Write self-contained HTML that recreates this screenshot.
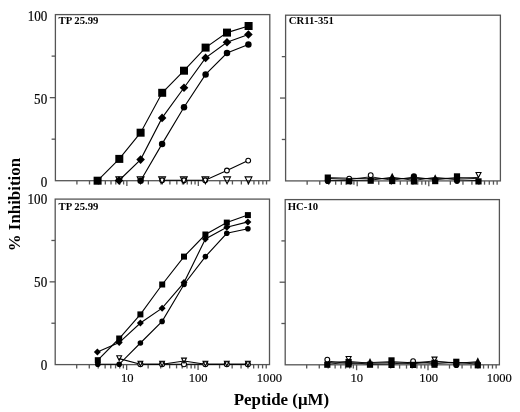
<!DOCTYPE html>
<html><head><meta charset="utf-8"><style>
html,body{margin:0;padding:0;background:#fff;width:520px;height:412px;overflow:hidden;}
body{position:relative;font-family:"Liberation Serif",serif;}
</style></head><body>
<svg width="520" height="412" viewBox="0 0 520 412" style="position:absolute;left:0;top:0;filter:grayscale(1)">
<rect x="55.4" y="14.6" width="214.40" height="166.10" fill="none" stroke="#555" stroke-width="1.3"/>
<line x1="51.60" y1="139.17" x2="55.4" y2="139.17" stroke="#555" stroke-width="1.3"/>
<line x1="49.80" y1="97.65" x2="55.4" y2="97.65" stroke="#555" stroke-width="1.3"/>
<line x1="51.60" y1="56.12" x2="55.4" y2="56.12" stroke="#555" stroke-width="1.3"/>
<line x1="76.91" y1="180.7" x2="76.91" y2="184.50" stroke="#555" stroke-width="1.3"/>
<line x1="89.50" y1="180.7" x2="89.50" y2="184.50" stroke="#555" stroke-width="1.3"/>
<line x1="98.43" y1="180.7" x2="98.43" y2="184.50" stroke="#555" stroke-width="1.3"/>
<line x1="105.35" y1="180.7" x2="105.35" y2="184.50" stroke="#555" stroke-width="1.3"/>
<line x1="111.01" y1="180.7" x2="111.01" y2="184.50" stroke="#555" stroke-width="1.3"/>
<line x1="115.80" y1="180.7" x2="115.80" y2="184.50" stroke="#555" stroke-width="1.3"/>
<line x1="119.94" y1="180.7" x2="119.94" y2="184.50" stroke="#555" stroke-width="1.3"/>
<line x1="123.60" y1="180.7" x2="123.60" y2="184.50" stroke="#555" stroke-width="1.3"/>
<line x1="126.87" y1="180.7" x2="126.87" y2="186.10" stroke="#555" stroke-width="1.3"/>
<line x1="148.38" y1="180.7" x2="148.38" y2="184.50" stroke="#555" stroke-width="1.3"/>
<line x1="160.96" y1="180.7" x2="160.96" y2="184.50" stroke="#555" stroke-width="1.3"/>
<line x1="169.89" y1="180.7" x2="169.89" y2="184.50" stroke="#555" stroke-width="1.3"/>
<line x1="176.82" y1="180.7" x2="176.82" y2="184.50" stroke="#555" stroke-width="1.3"/>
<line x1="182.48" y1="180.7" x2="182.48" y2="184.50" stroke="#555" stroke-width="1.3"/>
<line x1="187.26" y1="180.7" x2="187.26" y2="184.50" stroke="#555" stroke-width="1.3"/>
<line x1="191.41" y1="180.7" x2="191.41" y2="184.50" stroke="#555" stroke-width="1.3"/>
<line x1="195.06" y1="180.7" x2="195.06" y2="184.50" stroke="#555" stroke-width="1.3"/>
<line x1="198.33" y1="180.7" x2="198.33" y2="186.10" stroke="#555" stroke-width="1.3"/>
<line x1="219.85" y1="180.7" x2="219.85" y2="184.50" stroke="#555" stroke-width="1.3"/>
<line x1="232.43" y1="180.7" x2="232.43" y2="184.50" stroke="#555" stroke-width="1.3"/>
<line x1="241.36" y1="180.7" x2="241.36" y2="184.50" stroke="#555" stroke-width="1.3"/>
<line x1="248.29" y1="180.7" x2="248.29" y2="184.50" stroke="#555" stroke-width="1.3"/>
<line x1="253.95" y1="180.7" x2="253.95" y2="184.50" stroke="#555" stroke-width="1.3"/>
<line x1="258.73" y1="180.7" x2="258.73" y2="184.50" stroke="#555" stroke-width="1.3"/>
<line x1="262.87" y1="180.7" x2="262.87" y2="184.50" stroke="#555" stroke-width="1.3"/>
<line x1="266.53" y1="180.7" x2="266.53" y2="184.50" stroke="#555" stroke-width="1.3"/>
<rect x="285.6" y="15.2" width="214.80" height="165.70" fill="none" stroke="#555" stroke-width="1.3"/>
<line x1="281.80" y1="139.48" x2="285.6" y2="139.48" stroke="#555" stroke-width="1.3"/>
<line x1="280.00" y1="98.05" x2="285.6" y2="98.05" stroke="#555" stroke-width="1.3"/>
<line x1="281.80" y1="56.62" x2="285.6" y2="56.62" stroke="#555" stroke-width="1.3"/>
<line x1="307.15" y1="180.9" x2="307.15" y2="184.70" stroke="#555" stroke-width="1.3"/>
<line x1="319.76" y1="180.9" x2="319.76" y2="184.70" stroke="#555" stroke-width="1.3"/>
<line x1="328.71" y1="180.9" x2="328.71" y2="184.70" stroke="#555" stroke-width="1.3"/>
<line x1="335.65" y1="180.9" x2="335.65" y2="184.70" stroke="#555" stroke-width="1.3"/>
<line x1="341.32" y1="180.9" x2="341.32" y2="184.70" stroke="#555" stroke-width="1.3"/>
<line x1="346.11" y1="180.9" x2="346.11" y2="184.70" stroke="#555" stroke-width="1.3"/>
<line x1="350.26" y1="180.9" x2="350.26" y2="184.70" stroke="#555" stroke-width="1.3"/>
<line x1="353.92" y1="180.9" x2="353.92" y2="184.70" stroke="#555" stroke-width="1.3"/>
<line x1="357.20" y1="180.9" x2="357.20" y2="186.30" stroke="#555" stroke-width="1.3"/>
<line x1="378.75" y1="180.9" x2="378.75" y2="184.70" stroke="#555" stroke-width="1.3"/>
<line x1="391.36" y1="180.9" x2="391.36" y2="184.70" stroke="#555" stroke-width="1.3"/>
<line x1="400.31" y1="180.9" x2="400.31" y2="184.70" stroke="#555" stroke-width="1.3"/>
<line x1="407.25" y1="180.9" x2="407.25" y2="184.70" stroke="#555" stroke-width="1.3"/>
<line x1="412.92" y1="180.9" x2="412.92" y2="184.70" stroke="#555" stroke-width="1.3"/>
<line x1="417.71" y1="180.9" x2="417.71" y2="184.70" stroke="#555" stroke-width="1.3"/>
<line x1="421.86" y1="180.9" x2="421.86" y2="184.70" stroke="#555" stroke-width="1.3"/>
<line x1="425.52" y1="180.9" x2="425.52" y2="184.70" stroke="#555" stroke-width="1.3"/>
<line x1="428.80" y1="180.9" x2="428.80" y2="186.30" stroke="#555" stroke-width="1.3"/>
<line x1="450.35" y1="180.9" x2="450.35" y2="184.70" stroke="#555" stroke-width="1.3"/>
<line x1="462.96" y1="180.9" x2="462.96" y2="184.70" stroke="#555" stroke-width="1.3"/>
<line x1="471.91" y1="180.9" x2="471.91" y2="184.70" stroke="#555" stroke-width="1.3"/>
<line x1="478.85" y1="180.9" x2="478.85" y2="184.70" stroke="#555" stroke-width="1.3"/>
<line x1="484.52" y1="180.9" x2="484.52" y2="184.70" stroke="#555" stroke-width="1.3"/>
<line x1="489.31" y1="180.9" x2="489.31" y2="184.70" stroke="#555" stroke-width="1.3"/>
<line x1="493.46" y1="180.9" x2="493.46" y2="184.70" stroke="#555" stroke-width="1.3"/>
<line x1="497.12" y1="180.9" x2="497.12" y2="184.70" stroke="#555" stroke-width="1.3"/>
<rect x="55.2" y="199.1" width="214.30" height="165.50" fill="none" stroke="#555" stroke-width="1.3"/>
<line x1="51.40" y1="323.23" x2="55.2" y2="323.23" stroke="#555" stroke-width="1.3"/>
<line x1="49.60" y1="281.85" x2="55.2" y2="281.85" stroke="#555" stroke-width="1.3"/>
<line x1="51.40" y1="240.48" x2="55.2" y2="240.48" stroke="#555" stroke-width="1.3"/>
<line x1="76.70" y1="364.6" x2="76.70" y2="368.40" stroke="#555" stroke-width="1.3"/>
<line x1="89.28" y1="364.6" x2="89.28" y2="368.40" stroke="#555" stroke-width="1.3"/>
<line x1="98.21" y1="364.6" x2="98.21" y2="368.40" stroke="#555" stroke-width="1.3"/>
<line x1="105.13" y1="364.6" x2="105.13" y2="368.40" stroke="#555" stroke-width="1.3"/>
<line x1="110.79" y1="364.6" x2="110.79" y2="368.40" stroke="#555" stroke-width="1.3"/>
<line x1="115.57" y1="364.6" x2="115.57" y2="368.40" stroke="#555" stroke-width="1.3"/>
<line x1="119.71" y1="364.6" x2="119.71" y2="368.40" stroke="#555" stroke-width="1.3"/>
<line x1="123.36" y1="364.6" x2="123.36" y2="368.40" stroke="#555" stroke-width="1.3"/>
<line x1="126.63" y1="364.6" x2="126.63" y2="370.00" stroke="#555" stroke-width="1.3"/>
<line x1="148.14" y1="364.6" x2="148.14" y2="368.40" stroke="#555" stroke-width="1.3"/>
<line x1="160.72" y1="364.6" x2="160.72" y2="368.40" stroke="#555" stroke-width="1.3"/>
<line x1="169.64" y1="364.6" x2="169.64" y2="368.40" stroke="#555" stroke-width="1.3"/>
<line x1="176.56" y1="364.6" x2="176.56" y2="368.40" stroke="#555" stroke-width="1.3"/>
<line x1="182.22" y1="364.6" x2="182.22" y2="368.40" stroke="#555" stroke-width="1.3"/>
<line x1="187.00" y1="364.6" x2="187.00" y2="368.40" stroke="#555" stroke-width="1.3"/>
<line x1="191.14" y1="364.6" x2="191.14" y2="368.40" stroke="#555" stroke-width="1.3"/>
<line x1="194.80" y1="364.6" x2="194.80" y2="368.40" stroke="#555" stroke-width="1.3"/>
<line x1="198.07" y1="364.6" x2="198.07" y2="370.00" stroke="#555" stroke-width="1.3"/>
<line x1="219.57" y1="364.6" x2="219.57" y2="368.40" stroke="#555" stroke-width="1.3"/>
<line x1="232.15" y1="364.6" x2="232.15" y2="368.40" stroke="#555" stroke-width="1.3"/>
<line x1="241.07" y1="364.6" x2="241.07" y2="368.40" stroke="#555" stroke-width="1.3"/>
<line x1="248.00" y1="364.6" x2="248.00" y2="368.40" stroke="#555" stroke-width="1.3"/>
<line x1="253.65" y1="364.6" x2="253.65" y2="368.40" stroke="#555" stroke-width="1.3"/>
<line x1="258.43" y1="364.6" x2="258.43" y2="368.40" stroke="#555" stroke-width="1.3"/>
<line x1="262.58" y1="364.6" x2="262.58" y2="368.40" stroke="#555" stroke-width="1.3"/>
<line x1="266.23" y1="364.6" x2="266.23" y2="368.40" stroke="#555" stroke-width="1.3"/>
<rect x="285.2" y="199.6" width="214.20" height="165.20" fill="none" stroke="#555" stroke-width="1.3"/>
<line x1="281.40" y1="323.50" x2="285.2" y2="323.50" stroke="#555" stroke-width="1.3"/>
<line x1="279.60" y1="282.20" x2="285.2" y2="282.20" stroke="#555" stroke-width="1.3"/>
<line x1="281.40" y1="240.90" x2="285.2" y2="240.90" stroke="#555" stroke-width="1.3"/>
<line x1="306.69" y1="364.8" x2="306.69" y2="368.60" stroke="#555" stroke-width="1.3"/>
<line x1="319.27" y1="364.8" x2="319.27" y2="368.60" stroke="#555" stroke-width="1.3"/>
<line x1="328.19" y1="364.8" x2="328.19" y2="368.60" stroke="#555" stroke-width="1.3"/>
<line x1="335.11" y1="364.8" x2="335.11" y2="368.60" stroke="#555" stroke-width="1.3"/>
<line x1="340.76" y1="364.8" x2="340.76" y2="368.60" stroke="#555" stroke-width="1.3"/>
<line x1="345.54" y1="364.8" x2="345.54" y2="368.60" stroke="#555" stroke-width="1.3"/>
<line x1="349.68" y1="364.8" x2="349.68" y2="368.60" stroke="#555" stroke-width="1.3"/>
<line x1="353.33" y1="364.8" x2="353.33" y2="368.60" stroke="#555" stroke-width="1.3"/>
<line x1="356.60" y1="364.8" x2="356.60" y2="370.20" stroke="#555" stroke-width="1.3"/>
<line x1="378.09" y1="364.8" x2="378.09" y2="368.60" stroke="#555" stroke-width="1.3"/>
<line x1="390.67" y1="364.8" x2="390.67" y2="368.60" stroke="#555" stroke-width="1.3"/>
<line x1="399.59" y1="364.8" x2="399.59" y2="368.60" stroke="#555" stroke-width="1.3"/>
<line x1="406.51" y1="364.8" x2="406.51" y2="368.60" stroke="#555" stroke-width="1.3"/>
<line x1="412.16" y1="364.8" x2="412.16" y2="368.60" stroke="#555" stroke-width="1.3"/>
<line x1="416.94" y1="364.8" x2="416.94" y2="368.60" stroke="#555" stroke-width="1.3"/>
<line x1="421.08" y1="364.8" x2="421.08" y2="368.60" stroke="#555" stroke-width="1.3"/>
<line x1="424.73" y1="364.8" x2="424.73" y2="368.60" stroke="#555" stroke-width="1.3"/>
<line x1="428.00" y1="364.8" x2="428.00" y2="370.20" stroke="#555" stroke-width="1.3"/>
<line x1="449.49" y1="364.8" x2="449.49" y2="368.60" stroke="#555" stroke-width="1.3"/>
<line x1="462.07" y1="364.8" x2="462.07" y2="368.60" stroke="#555" stroke-width="1.3"/>
<line x1="470.99" y1="364.8" x2="470.99" y2="368.60" stroke="#555" stroke-width="1.3"/>
<line x1="477.91" y1="364.8" x2="477.91" y2="368.60" stroke="#555" stroke-width="1.3"/>
<line x1="483.56" y1="364.8" x2="483.56" y2="368.60" stroke="#555" stroke-width="1.3"/>
<line x1="488.34" y1="364.8" x2="488.34" y2="368.60" stroke="#555" stroke-width="1.3"/>
<line x1="492.48" y1="364.8" x2="492.48" y2="368.60" stroke="#555" stroke-width="1.3"/>
<line x1="496.13" y1="364.8" x2="496.13" y2="368.60" stroke="#555" stroke-width="1.3"/>
<path d="M97.60 180.70L119.30 158.90L140.60 132.70L162.20 92.80L184.00 70.70L205.60 47.60L227.00 32.60L248.60 26.00" fill="none" stroke="#000" stroke-width="1.1"/>
<path d="M119.00 180.50L140.60 159.60L162.10 117.90L184.00 87.70L205.60 57.90L227.00 42.30L248.40 34.50" fill="none" stroke="#000" stroke-width="1.1"/>
<path d="M140.60 180.80L162.10 143.90L184.00 107.30L205.60 74.40L227.00 53.00L248.40 44.50" fill="none" stroke="#000" stroke-width="1.1"/>
<path d="M162.10 180.30L184.00 180.30L205.20 180.30L226.90 170.50L248.20 160.60" fill="none" stroke="#000" stroke-width="1.1"/>
<circle cx="162.10" cy="180.30" r="2.40" fill="#fff" stroke="#000" stroke-width="1.1"/>
<circle cx="184.00" cy="180.30" r="2.40" fill="#fff" stroke="#000" stroke-width="1.1"/>
<circle cx="205.20" cy="180.30" r="2.40" fill="#fff" stroke="#000" stroke-width="1.1"/>
<circle cx="226.90" cy="170.50" r="2.40" fill="#fff" stroke="#000" stroke-width="1.1"/>
<circle cx="248.20" cy="160.60" r="2.40" fill="#fff" stroke="#000" stroke-width="1.1"/>
<path d="M115.90 176.90L122.70 176.90L119.30 183.70Z" fill="none" stroke="#000" stroke-width="1.1"/>
<path d="M137.20 176.90L144.00 176.90L140.60 183.70Z" fill="none" stroke="#000" stroke-width="1.1"/>
<path d="M158.70 176.90L165.50 176.90L162.10 183.70Z" fill="none" stroke="#000" stroke-width="1.1"/>
<path d="M180.40 176.90L187.20 176.90L183.80 183.70Z" fill="none" stroke="#000" stroke-width="1.1"/>
<path d="M202.00 176.90L208.80 176.90L205.40 183.70Z" fill="none" stroke="#000" stroke-width="1.1"/>
<path d="M223.70 176.90L230.50 176.90L227.10 183.70Z" fill="none" stroke="#000" stroke-width="1.1"/>
<path d="M245.10 176.90L251.90 176.90L248.50 183.70Z" fill="none" stroke="#000" stroke-width="1.1"/>
<circle cx="140.60" cy="180.80" r="3.25" fill="#000"/>
<circle cx="162.10" cy="143.90" r="3.25" fill="#000"/>
<circle cx="184.00" cy="107.30" r="3.25" fill="#000"/>
<circle cx="205.60" cy="74.40" r="3.25" fill="#000"/>
<circle cx="227.00" cy="53.00" r="3.25" fill="#000"/>
<circle cx="248.40" cy="44.50" r="3.25" fill="#000"/>
<path d="M119.00 176.20L123.30 180.50L119.00 184.80L114.70 180.50Z" fill="#000"/>
<path d="M140.60 155.30L144.90 159.60L140.60 163.90L136.30 159.60Z" fill="#000"/>
<path d="M162.10 113.60L166.40 117.90L162.10 122.20L157.80 117.90Z" fill="#000"/>
<path d="M184.00 83.40L188.30 87.70L184.00 92.00L179.70 87.70Z" fill="#000"/>
<path d="M205.60 53.60L209.90 57.90L205.60 62.20L201.30 57.90Z" fill="#000"/>
<path d="M227.00 38.00L231.30 42.30L227.00 46.60L222.70 42.30Z" fill="#000"/>
<path d="M248.40 30.20L252.70 34.50L248.40 38.80L244.10 34.50Z" fill="#000"/>
<rect x="93.60" y="176.70" width="8" height="8" fill="#000"/>
<rect x="115.30" y="154.90" width="8" height="8" fill="#000"/>
<rect x="136.60" y="128.70" width="8" height="8" fill="#000"/>
<rect x="158.20" y="88.80" width="8" height="8" fill="#000"/>
<rect x="180.00" y="66.70" width="8" height="8" fill="#000"/>
<rect x="201.60" y="43.60" width="8" height="8" fill="#000"/>
<rect x="223.00" y="28.60" width="8" height="8" fill="#000"/>
<rect x="244.60" y="22.00" width="8" height="8" fill="#000"/>
<path d="M97.80 360.20L119.20 338.50L140.40 314.40L162.20 284.50L184.00 256.60L205.40 234.50L226.80 222.60L247.90 215.10" fill="none" stroke="#000" stroke-width="1.1"/>
<path d="M97.40 351.90L119.20 342.60L140.40 323.00L162.10 308.20L184.00 282.60L205.40 238.90L226.80 227.20L247.90 221.90" fill="none" stroke="#000" stroke-width="1.1"/>
<path d="M97.80 364.30L119.20 364.30L140.40 343.00L162.10 321.40L184.00 284.50L205.40 256.60L226.80 233.30L247.90 228.70" fill="none" stroke="#000" stroke-width="1.1"/>
<path d="M140.40 364.20L162.10 364.20L184.00 364.20L205.40 364.20L226.80 364.20L247.90 364.20" fill="none" stroke="#000" stroke-width="1.1"/>
<path d="M119.20 358.60L140.40 364.20L162.10 364.20L184.00 361.00L205.40 364.20L226.80 364.20L247.90 364.20" fill="none" stroke="#000" stroke-width="1.1"/>
<circle cx="140.40" cy="364.20" r="2.50" fill="#fff" stroke="#000" stroke-width="1.1"/>
<circle cx="162.10" cy="364.20" r="2.50" fill="#fff" stroke="#000" stroke-width="1.1"/>
<circle cx="184.00" cy="364.20" r="2.50" fill="#fff" stroke="#000" stroke-width="1.1"/>
<circle cx="205.40" cy="364.20" r="2.50" fill="#fff" stroke="#000" stroke-width="1.1"/>
<circle cx="226.80" cy="364.20" r="2.50" fill="#fff" stroke="#000" stroke-width="1.1"/>
<circle cx="247.90" cy="364.20" r="2.50" fill="#fff" stroke="#000" stroke-width="1.1"/>
<path d="M116.80 355.70L121.60 355.70L119.20 360.50Z" fill="none" stroke="#000" stroke-width="1.1"/>
<path d="M138.00 361.30L142.80 361.30L140.40 366.10Z" fill="none" stroke="#000" stroke-width="1.1"/>
<path d="M159.70 361.30L164.50 361.30L162.10 366.10Z" fill="none" stroke="#000" stroke-width="1.1"/>
<path d="M181.60 358.10L186.40 358.10L184.00 362.90Z" fill="none" stroke="#000" stroke-width="1.1"/>
<path d="M203.00 361.30L207.80 361.30L205.40 366.10Z" fill="none" stroke="#000" stroke-width="1.1"/>
<path d="M224.40 361.30L229.20 361.30L226.80 366.10Z" fill="none" stroke="#000" stroke-width="1.1"/>
<path d="M245.50 361.30L250.30 361.30L247.90 366.10Z" fill="none" stroke="#000" stroke-width="1.1"/>
<circle cx="97.80" cy="364.30" r="2.80" fill="#000"/>
<circle cx="119.20" cy="364.30" r="2.80" fill="#000"/>
<circle cx="140.40" cy="343.00" r="2.80" fill="#000"/>
<circle cx="162.10" cy="321.40" r="2.80" fill="#000"/>
<circle cx="184.00" cy="284.50" r="2.80" fill="#000"/>
<circle cx="205.40" cy="256.60" r="2.80" fill="#000"/>
<circle cx="226.80" cy="233.30" r="2.80" fill="#000"/>
<circle cx="247.90" cy="228.70" r="2.80" fill="#000"/>
<path d="M97.40 348.40L100.90 351.90L97.40 355.40L93.90 351.90Z" fill="#000"/>
<path d="M119.20 339.10L122.70 342.60L119.20 346.10L115.70 342.60Z" fill="#000"/>
<path d="M140.40 319.50L143.90 323.00L140.40 326.50L136.90 323.00Z" fill="#000"/>
<path d="M162.10 304.70L165.60 308.20L162.10 311.70L158.60 308.20Z" fill="#000"/>
<path d="M184.00 279.10L187.50 282.60L184.00 286.10L180.50 282.60Z" fill="#000"/>
<path d="M205.40 235.40L208.90 238.90L205.40 242.40L201.90 238.90Z" fill="#000"/>
<path d="M226.80 223.70L230.30 227.20L226.80 230.70L223.30 227.20Z" fill="#000"/>
<path d="M247.90 218.40L251.40 221.90L247.90 225.40L244.40 221.90Z" fill="#000"/>
<rect x="94.80" y="357.20" width="6" height="6" fill="#000"/>
<rect x="116.20" y="335.50" width="6" height="6" fill="#000"/>
<rect x="137.40" y="311.40" width="6" height="6" fill="#000"/>
<rect x="159.20" y="281.50" width="6" height="6" fill="#000"/>
<rect x="181.00" y="253.60" width="6" height="6" fill="#000"/>
<rect x="202.40" y="231.50" width="6" height="6" fill="#000"/>
<rect x="223.80" y="219.60" width="6" height="6" fill="#000"/>
<rect x="244.90" y="212.10" width="6" height="6" fill="#000"/>
<path d="M327.80 178.40L349.20 179.40L370.70 176.80L392.20 180.20L413.90 177.00L435.20 179.80L457.00 177.60L478.50 178.80" fill="none" stroke="#000" stroke-width="0.9"/>
<path d="M327.80 180.40L349.20 180.40L370.70 180.20L392.20 177.20L413.90 180.40L435.20 177.40L457.00 179.80L478.50 180.60" fill="none" stroke="#000" stroke-width="0.9"/>
<path d="M327.80 177.60L349.20 178.20L370.70 178.80L392.20 178.40L413.90 178.60L435.20 178.40L457.00 178.20L478.50 177.40" fill="none" stroke="#000" stroke-width="0.9"/>
<rect x="324.70" y="174.50" width="6.2" height="6.2" fill="#000"/>
<circle cx="327.80" cy="181.00" r="3.10" fill="#000"/>
<circle cx="349.20" cy="178.60" r="2.40" fill="#fff" stroke="#000" stroke-width="1.1"/>
<rect x="346.10" y="178.10" width="6.2" height="6.2" fill="#000"/>
<circle cx="370.70" cy="175.20" r="2.40" fill="#fff" stroke="#000" stroke-width="1.1"/>
<rect x="367.60" y="177.60" width="6.2" height="6.2" fill="#000"/>
<path d="M392.20 172.70L395.50 179.30L388.90 179.30Z" fill="#000"/>
<rect x="389.10" y="177.90" width="6.2" height="6.2" fill="#000"/>
<circle cx="413.90" cy="176.30" r="3.10" fill="#000"/>
<rect x="410.80" y="178.30" width="6.2" height="6.2" fill="#000"/>
<path d="M435.20 174.30L438.50 180.90L431.90 180.90Z" fill="#000"/>
<rect x="432.10" y="178.00" width="6.2" height="6.2" fill="#000"/>
<circle cx="457.00" cy="180.80" r="3.10" fill="#000"/>
<rect x="453.90" y="173.30" width="6.2" height="6.2" fill="#000"/>
<path d="M476.00 172.50L481.00 172.50L478.50 177.50Z" fill="#fff" stroke="#000" stroke-width="1.1"/>
<rect x="475.40" y="178.30" width="6.2" height="6.2" fill="#000"/>
<path d="M327.30 361.00L348.60 363.60L370.00 362.60L391.50 361.60L413.10 362.80L434.50 361.00L456.30 363.40L477.80 361.60" fill="none" stroke="#000" stroke-width="0.9"/>
<path d="M327.30 364.20L348.60 362.40L370.00 364.20L391.50 364.00L413.10 362.00L434.50 363.60L456.30 362.40L477.80 364.20" fill="none" stroke="#000" stroke-width="0.9"/>
<path d="M327.30 362.60L348.60 361.40L370.00 363.20L391.50 362.60L413.10 363.80L434.50 361.80L456.30 362.60L477.80 362.80" fill="none" stroke="#000" stroke-width="0.9"/>
<circle cx="327.30" cy="359.60" r="2.40" fill="#fff" stroke="#000" stroke-width="1.1"/>
<rect x="324.20" y="361.60" width="6.2" height="6.2" fill="#000"/>
<path d="M346.10 356.50L351.10 356.50L348.60 361.50Z" fill="#fff" stroke="#000" stroke-width="1.1"/>
<rect x="345.50" y="358.90" width="6.2" height="6.2" fill="#000"/>
<rect x="345.50" y="361.30" width="6.2" height="6.2" fill="#000"/>
<path d="M370.00 358.10L373.30 364.70L366.70 364.70Z" fill="#000"/>
<rect x="366.90" y="361.60" width="6.2" height="6.2" fill="#000"/>
<rect x="388.40" y="357.30" width="6.2" height="6.2" fill="#000"/>
<rect x="388.40" y="361.80" width="6.2" height="6.2" fill="#000"/>
<circle cx="413.10" cy="361.20" r="2.40" fill="#fff" stroke="#000" stroke-width="1.1"/>
<rect x="410.00" y="361.80" width="6.2" height="6.2" fill="#000"/>
<path d="M432.00 357.10L437.00 357.10L434.50 362.10Z" fill="#fff" stroke="#000" stroke-width="1.1"/>
<rect x="431.40" y="359.70" width="6.2" height="6.2" fill="#000"/>
<rect x="431.40" y="361.60" width="6.2" height="6.2" fill="#000"/>
<circle cx="456.30" cy="365.00" r="3.10" fill="#000"/>
<rect x="453.20" y="358.70" width="6.2" height="6.2" fill="#000"/>
<path d="M477.80 357.30L481.10 363.90L474.50 363.90Z" fill="#000"/>
<rect x="474.70" y="362.20" width="6.2" height="6.2" fill="#000"/>
<text x="47.3" y="20.8" font-family="Liberation Serif" font-size="13.8" text-anchor="end" stroke="#000" stroke-width="0.2" transform="translate(47.3 20.8) scale(0.95 1) translate(-47.3 -20.8)">100</text>
<text x="47.2" y="103.6" font-family="Liberation Serif" font-size="13.8" text-anchor="end" stroke="#000" stroke-width="0.2" transform="translate(47.2 103.6) scale(0.95 1) translate(-47.2 -103.6)">50</text>
<text x="47.2" y="186.6" font-family="Liberation Serif" font-size="13.8" text-anchor="end" stroke="#000" stroke-width="0.2" transform="translate(47.2 186.6) scale(0.95 1) translate(-47.2 -186.6)">0</text>
<text x="47.2" y="204.3" font-family="Liberation Serif" font-size="13.8" text-anchor="end" stroke="#000" stroke-width="0.2" transform="translate(47.2 204.3) scale(0.95 1) translate(-47.2 -204.3)">100</text>
<text x="47.2" y="287.0" font-family="Liberation Serif" font-size="13.8" text-anchor="end" stroke="#000" stroke-width="0.2" transform="translate(47.2 287.0) scale(0.95 1) translate(-47.2 -287.0)">50</text>
<text x="47.2" y="370.5" font-family="Liberation Serif" font-size="13.8" text-anchor="end" stroke="#000" stroke-width="0.2" transform="translate(47.2 370.5) scale(0.95 1) translate(-47.2 -370.5)">0</text>
<text x="127.2" y="382.3" font-family="Liberation Serif" font-size="12.6" text-anchor="middle" stroke="#000" stroke-width="0.15">10</text>
<text x="198.2" y="382.3" font-family="Liberation Serif" font-size="12.6" text-anchor="middle" stroke="#000" stroke-width="0.15">100</text>
<text x="269.4" y="382.3" font-family="Liberation Serif" font-size="12.6" text-anchor="middle" stroke="#000" stroke-width="0.15">1000</text>
<text x="356.8" y="382.3" font-family="Liberation Serif" font-size="12.6" text-anchor="middle" stroke="#000" stroke-width="0.15">10</text>
<text x="428.6" y="382.3" font-family="Liberation Serif" font-size="12.6" text-anchor="middle" stroke="#000" stroke-width="0.15">100</text>
<text x="499.3" y="382.3" font-family="Liberation Serif" font-size="12.6" text-anchor="middle" stroke="#000" stroke-width="0.15">1000</text>
<text x="58.6" y="24.4" font-family="Liberation Serif" font-weight="bold" font-size="10.7">TP 25.99</text>
<text x="288.8" y="24.3" font-family="Liberation Serif" font-weight="bold" font-size="10.7">CR11-351</text>
<text x="58.6" y="209.7" font-family="Liberation Serif" font-weight="bold" font-size="10.7">TP 25.99</text>
<text x="287.8" y="210.0" font-family="Liberation Serif" font-weight="bold" font-size="10.7">HC-10</text>
<text x="281.4" y="404.8" font-family="Liberation Serif" font-weight="bold" font-size="16.9" text-anchor="middle">Peptide (μM)</text>
<text transform="translate(19.8 204.6) rotate(-90)" x="0" y="0" font-family="Liberation Serif" font-weight="bold" font-size="16.9" text-anchor="middle">% Inhibition</text>
</svg>
</body></html>
